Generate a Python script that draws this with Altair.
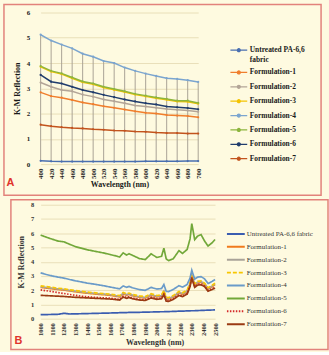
import altair as alt
import pandas as pd

SERIES = ["Untreated PA-6,6 fabric", "Formulation-1", "Formulation-2", "Formulation-3",
          "Formulation-4", "Formulation-5", "Formulation-6", "Formulation-7"]

# ---------------- Panel A (visible range) ----------------
wl_a = [400, 420, 440, 460, 480, 500, 520, 540, 560, 580, 600, 620, 640, 660, 680, 700]
a_untreated = [0.13, 0.11, 0.10, 0.10, 0.10, 0.10, 0.10, 0.10, 0.10, 0.10, 0.11, 0.11, 0.11, 0.11, 0.12, 0.12]
a_f1 = [2.84, 2.69, 2.63, 2.54, 2.44, 2.37, 2.29, 2.23, 2.16, 2.09, 2.03, 2.00, 1.94, 1.92, 1.90, 1.85]
a_f2 = [3.23, 3.06, 2.93, 2.88, 2.75, 2.67, 2.56, 2.49, 2.41, 2.32, 2.28, 2.23, 2.18, 2.15, 2.12, 2.07]
a_f3 = [3.85, 3.66, 3.56, 3.40, 3.24, 3.16, 3.03, 2.94, 2.85, 2.75, 2.68, 2.61, 2.55, 2.48, 2.47, 2.39]
a_f4 = [5.12, 4.89, 4.73, 4.58, 4.37, 4.25, 4.08, 4.00, 3.82, 3.69, 3.58, 3.49, 3.40, 3.37, 3.32, 3.25]
a_f5 = [3.88, 3.69, 3.59, 3.43, 3.27, 3.19, 3.06, 2.97, 2.88, 2.78, 2.71, 2.64, 2.58, 2.51, 2.51, 2.42]
a_f6 = [3.53, 3.26, 3.19, 3.06, 2.93, 2.84, 2.74, 2.65, 2.56, 2.48, 2.41, 2.36, 2.28, 2.25, 2.22, 2.17]
a_f7 = [1.56, 1.50, 1.46, 1.43, 1.41, 1.38, 1.36, 1.33, 1.32, 1.29, 1.28, 1.25, 1.23, 1.23, 1.21, 1.21]

# ---------------- Panel B (NIR range) ----------------
wl_b = [1000, 1050, 1100, 1150, 1200, 1250, 1300, 1350, 1400, 1450,
        1500, 1550, 1600, 1650, 1680, 1710, 1740, 1760, 1790, 1850,
        1900, 1950, 2000, 2040, 2060, 2080, 2100, 2140, 2190, 2220,
        2260, 2285, 2300, 2325, 2350, 2380, 2410, 2440, 2475, 2500]
b_untreated = [0.28, 0.29, 0.30, 0.31, 0.38, 0.33, 0.34, 0.35, 0.36, 0.37,
               0.38, 0.39, 0.40, 0.41, 0.42, 0.43, 0.43, 0.44, 0.44, 0.45,
               0.46, 0.47, 0.48, 0.49, 0.49, 0.50, 0.50, 0.51, 0.53, 0.53,
               0.55, 0.55, 0.56, 0.56, 0.57, 0.58, 0.59, 0.60, 0.61, 0.62]
b_f1 = [2.20, 2.15, 2.10, 2.05, 2.01, 1.95, 1.89, 1.84, 1.79, 1.75,
        1.71, 1.68, 1.64, 1.57, 1.53, 1.75, 1.65, 1.71, 1.61, 1.50,
        1.45, 1.65, 1.53, 1.58, 1.88, 1.40, 1.38, 1.52, 1.82, 1.72,
        1.90, 2.40, 3.00, 2.35, 2.52, 2.55, 2.40, 2.08, 2.25, 2.40]
b_f2 = [2.24, 2.19, 2.14, 2.09, 2.05, 1.99, 1.93, 1.88, 1.83, 1.79,
        1.75, 1.72, 1.68, 1.61, 1.57, 1.79, 1.69, 1.75, 1.65, 1.54,
        1.49, 1.69, 1.57, 1.62, 1.92, 1.44, 1.42, 1.56, 1.86, 1.76,
        1.94, 2.45, 3.05, 2.40, 2.57, 2.60, 2.45, 2.13, 2.30, 2.45]
b_f3 = [2.30, 2.25, 2.20, 2.14, 2.10, 2.03, 1.97, 1.92, 1.87, 1.83,
        1.79, 1.76, 1.72, 1.66, 1.62, 1.84, 1.74, 1.80, 1.70, 1.60,
        1.55, 1.75, 1.63, 1.68, 1.98, 1.50, 1.48, 1.62, 1.92, 1.82,
        2.00, 2.50, 3.10, 2.45, 2.62, 2.65, 2.50, 2.18, 2.35, 2.50]
b_f4 = [3.22, 3.10, 3.00, 2.92, 2.85, 2.75, 2.66, 2.58, 2.50, 2.44,
        2.37, 2.30, 2.22, 2.14, 2.10, 2.30, 2.20, 2.27, 2.17, 2.04,
        1.99, 2.20, 2.08, 2.12, 2.40, 1.92, 1.90, 2.05, 2.32, 2.22,
        2.40, 2.85, 3.40, 2.78, 2.92, 2.95, 2.80, 2.47, 2.62, 2.75]
b_f5 = [5.87, 5.72, 5.58, 5.45, 5.40, 5.22, 5.06, 4.95, 4.84, 4.76,
        4.68, 4.60, 4.50, 4.40, 4.33, 4.62, 4.47, 4.56, 4.45, 4.22,
        4.15, 4.55, 4.30, 4.38, 4.95, 4.20, 4.08, 4.20, 4.78, 4.58,
        4.86, 5.60, 6.68, 5.55, 5.80, 5.90, 5.45, 5.10, 5.33, 5.56]
b_f6 = [2.02, 1.96, 1.90, 1.83, 1.77, 1.70, 1.64, 1.58, 1.54, 1.51,
        1.48, 1.46, 1.44, 1.39, 1.36, 1.58, 1.48, 1.54, 1.45, 1.36,
        1.33, 1.51, 1.41, 1.45, 1.73, 1.28, 1.26, 1.40, 1.68, 1.60,
        1.77, 2.30, 2.92, 2.26, 2.42, 2.44, 2.30, 1.98, 2.11, 2.22]
b_f7 = [1.64, 1.62, 1.60, 1.58, 1.56, 1.53, 1.50, 1.48, 1.46, 1.44,
        1.42, 1.40, 1.38, 1.34, 1.31, 1.52, 1.43, 1.49, 1.40, 1.31,
        1.28, 1.46, 1.36, 1.40, 1.68, 1.23, 1.21, 1.35, 1.63, 1.55,
        1.72, 2.25, 2.86, 2.20, 2.36, 2.38, 2.25, 1.93, 2.05, 2.15]


def long_df(wl, cols):
    rows = []
    for order, (name, vals) in enumerate(zip(SERIES, cols)):
        for w, v in zip(wl, vals):
            rows.append({"wl": w, "series": name, "value": v, "order": order})
    return pd.DataFrame(rows)


dfA = long_df(wl_a, [a_untreated, a_f1, a_f2, a_f3, a_f4, a_f5, a_f6, a_f7])
dfB = long_df(wl_b, [b_untreated, b_f1, b_f2, b_f3, b_f4, b_f5, b_f6, b_f7])

FONT = "Liberation Serif"
CREAM = "#FEFAE0"
BORDER = "#E2827B"
GRID = "#E9DFB8"
TXT = "#1A1A1A"

colors_a = ["#4A6FB0", "#F07E2C", "#B3A597", "#F4C300", "#7BA5CF", "#8DB53E", "#203C6C", "#C2531D"]
colors_b = ["#3B5DB0", "#F07A1C", "#A9A398", "#F7C600", "#6A9BC9", "#72A83A", "#D42A2A", "#9A3A12"]
dashes_b = [[1, 0], [1, 0], [1, 0], [4, 2], [1, 0], [1, 0], [1.5, 1.5], [1, 0]]

dummy = pd.DataFrame({"k": ["A"]})

# ---------------- Panel A chart ----------------
axis_x_a = alt.Axis(values=wl_a, format="d", labelAngle=270, title="Wavelength (nm)", grid=False,
                    domain=False, ticks=False, labelFont=FONT, labelFontWeight="bold",
                    labelFontSize=7, labelPadding=4, labelColor=TXT, titleFont=FONT,
                    titleFontWeight="bold", titleFontSize=8, titlePadding=2, titleColor=TXT)
axis_y_a = alt.Axis(values=[0, 1, 2, 3, 4, 5, 6], grid=True, gridColor=GRID, domain=False,
                    ticks=False, labelFont=FONT, labelFontWeight="bold", labelFontSize=7,
                    labelPadding=11, labelColor=TXT, title="K-M Reflection", titleFont=FONT,
                    titleFontWeight="bold", titleFontSize=8, titlePadding=5, titleColor=TXT)
sx_a = alt.Scale(domain=[400, 700], nice=False)
sy_a = alt.Scale(domain=[0, 6], nice=False)

legend_a = alt.Legend(
    title=None, orient="none", legendX=195, legendY=33, padding=0,
    symbolType="M-2,0H2M-0.35,0A0.35,0.35,0,1,1,0.35,0A0.35,0.35,0,1,1,-0.35,0",
    symbolSize=72, symbolStrokeWidth=1.3, labelFont=FONT, labelFontWeight="bold",
    labelFontSize=7.5, labelColor=TXT, labelOffset=6, rowPadding=4.5,
    labelExpr="datum.label == 'Untreated PA-6,6 fabric' ? ['Untreated PA-6,6', 'fabric'] : datum.label",
)

border_a = alt.Chart(dummy).mark_rect(fillOpacity=0, stroke=BORDER, strokeWidth=1.5).encode(
    x=alt.value(-37), x2=alt.value(283), y=alt.value(-8), y2=alt.value(184.5))
label_a = alt.Chart(dummy).mark_text(font="Liberation Sans", fontWeight="bold", fontSize=11,
                                     color="#E0332B", align="center", baseline="middle").encode(
    x=alt.value(-30.5), y=alt.value(172), text=alt.value("A"))
hilo_a = alt.Chart(dfA).mark_rule(color="#A9A295", strokeWidth=1).encode(
    x=alt.X("wl:Q", scale=sx_a, axis=axis_x_a),
    y=alt.Y("min(value):Q", scale=sy_a, axis=axis_y_a),
    y2="max(value):Q")
lines_a = alt.Chart(dfA).mark_line(strokeWidth=1.5, point=alt.OverlayMarkDef(filled=True, size=5)).encode(
    x=alt.X("wl:Q", scale=sx_a, axis=axis_x_a),
    y=alt.Y("value:Q", scale=sy_a, axis=axis_y_a),
    color=alt.Color("series:N", scale=alt.Scale(domain=SERIES, range=colors_a), sort=SERIES, legend=legend_a),
    order="order:Q")

panel_a = alt.layer(border_a, hilo_a, lines_a, label_a).properties(width=159, height=153)

# ---------------- Panel B chart ----------------
axis_x_b = alt.Axis(values=list(range(1000, 2501, 100)), format="d", labelAngle=270, title="Wavelength (nm)",
                    grid=False, domain=False, ticks=False, labelFont=FONT, labelFontWeight="bold",
                    labelFontSize=6.5, labelPadding=4, labelColor="#333", titleFont=FONT,
                    titleFontWeight="bold", titleFontSize=8, titlePadding=3, titleColor="#333",
                    titleX=115)
axis_y_b = alt.Axis(values=[0, 1, 2, 3, 4, 5, 6, 7, 8], grid=True, gridColor=GRID, domain=False,
                    ticks=False, labelFont=FONT, labelFontWeight="bold", labelFontSize=6.5,
                    labelPadding=7, labelColor="#333", title="K-M Reflection", titleFont=FONT,
                    titleFontWeight="bold", titleFontSize=8, titlePadding=5, titleColor="#333")
legend_b = alt.Legend(
    title=None, orient="none", legendX=191.5, legendY=24, padding=0,
    symbolType="M-2,0H2", symbolSize=81, symbolStrokeWidth=2,
    labelFont=FONT, labelFontSize=7, labelColor="#333", labelOffset=5.5, rowPadding=3,
)
border_b = alt.Chart(dummy).mark_rect(fillOpacity=0, stroke=BORDER, strokeWidth=1.5).encode(
    x=alt.value(-30), x2=alt.value(290), y=alt.value(-5), y2=alt.value(146))
label_b = alt.Chart(dummy).mark_text(font="Liberation Sans", fontWeight="bold", fontSize=11,
                                     color="#E0332B", align="center", baseline="middle").encode(
    x=alt.value(-22.5), y=alt.value(138), text=alt.value("B"))
lines_b = alt.Chart(dfB).mark_line(strokeWidth=1.7).encode(
    x=alt.X("wl:Q", scale=alt.Scale(domain=[1000, 2500], nice=False), axis=axis_x_b),
    y=alt.Y("value:Q", scale=alt.Scale(domain=[0, 8], nice=False), axis=axis_y_b),
    color=alt.Color("series:N", scale=alt.Scale(domain=SERIES, range=colors_b), sort=SERIES, legend=legend_b),
    strokeDash=alt.StrokeDash("series:N", scale=alt.Scale(domain=SERIES, range=dashes_b), sort=SERIES, legend=legend_b),
    order="order:Q")

panel_b = alt.layer(border_b, lines_b, label_b).properties(width=176, height=115)

chart = alt.vconcat(panel_a, panel_b, spacing=2).resolve_scale(
    color="independent", strokeDash="independent"
).resolve_legend(color="independent", strokeDash="independent").properties(
    background=CREAM,
    padding={"left": 3, "top": 2, "right": 0, "bottom": 0},
).configure_view(stroke=None).configure_concat(spacing=2)

chart.save("out.html", embed_options={"renderer": "svg", "actions": False})
